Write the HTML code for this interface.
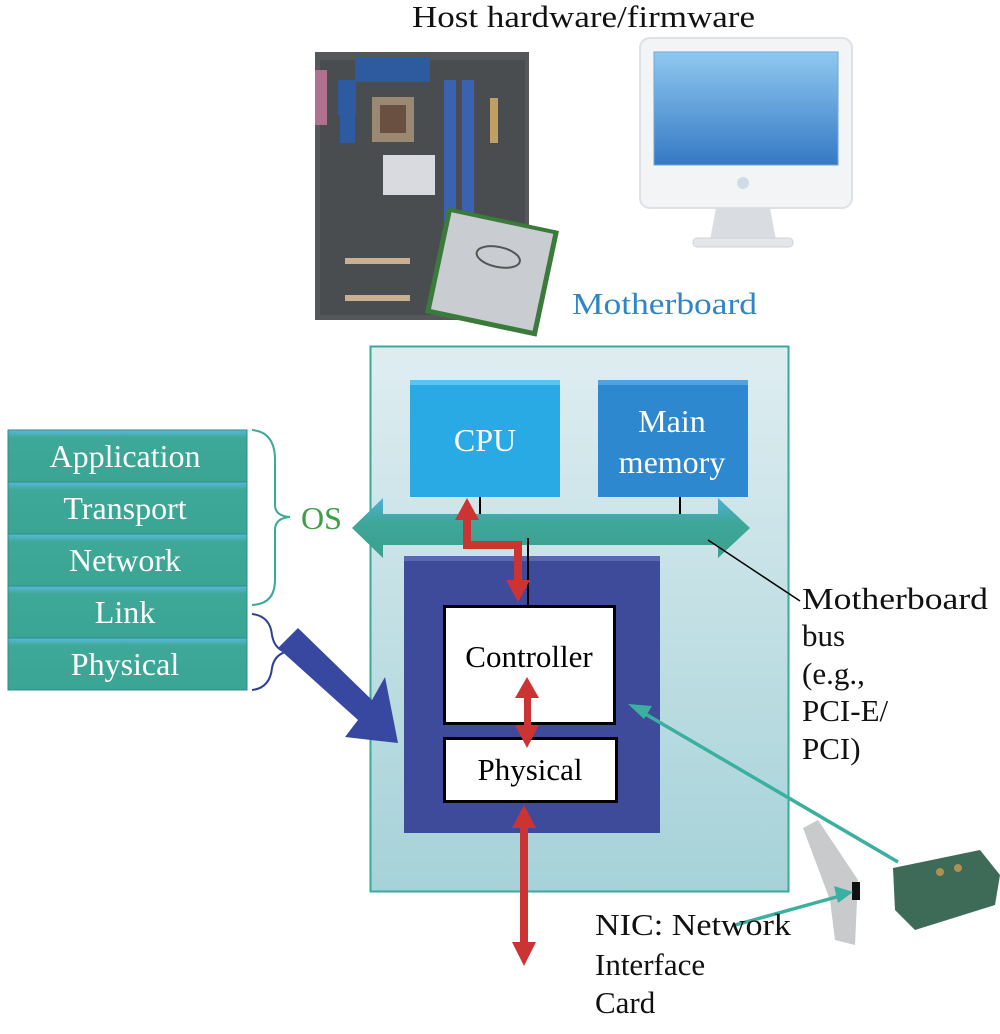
<!DOCTYPE html>
<html><head><meta charset="utf-8"><style>
html,body{margin:0;padding:0;background:#fff;}
svg{display:block;}
text{font-family:"Liberation Serif",serif;}
</style></head><body>
<svg width="1000" height="1034" viewBox="0 0 1000 1034" xmlns="http://www.w3.org/2000/svg">
<defs>
<linearGradient id="mb" x1="0" y1="0" x2="0" y2="1"><stop offset="0" stop-color="#dfedf1"/><stop offset="1" stop-color="#a5d2d8"/></linearGradient>
<linearGradient id="scr" x1="0" y1="0" x2="0" y2="1"><stop offset="0" stop-color="#8fc8f0"/><stop offset="1" stop-color="#3579c4"/></linearGradient>
<linearGradient id="lay" x1="0" y1="0" x2="0" y2="1"><stop offset="0" stop-color="#5ab8dc"/><stop offset="0.15" stop-color="#3fa898"/><stop offset="1" stop-color="#3aa594"/></linearGradient>
<linearGradient id="bus" x1="0" y1="0" x2="0" y2="1"><stop offset="0" stop-color="#4fb0d8"/><stop offset="0.4" stop-color="#3fa79a"/><stop offset="1" stop-color="#3aa08f"/></linearGradient>
</defs>

<text x="412" y="27" font-size="31" textLength="343" lengthAdjust="spacingAndGlyphs" fill="#111">Host hardware/firmware</text>

<!-- motherboard picture -->
<rect x="315" y="52" width="214" height="268" fill="#55585a"/>
<rect x="320" y="60" width="205" height="255" fill="#4a4d50"/>
<rect x="355" y="57" width="75" height="25" fill="#2e5aa0"/>
<rect x="338" y="80" width="18" height="35" fill="#2e5aa0"/>
<rect x="340" y="115" width="15" height="28" fill="#2e5aa0"/>
<rect x="315" y="70" width="12" height="55" fill="#b07090"/>
<rect x="372" y="97" width="42" height="45" fill="#9a8870"/>
<rect x="380" y="105" width="26" height="28" fill="#6a5040"/>
<rect x="383" y="155" width="52" height="40" fill="#d8dae0"/>
<rect x="444" y="80" width="12" height="150" fill="#3a62b0"/>
<rect x="462" y="80" width="12" height="150" fill="#3a62b0"/>
<rect x="490" y="98" width="8" height="45" fill="#c0a060"/>
<rect x="345" y="258" width="65" height="6" fill="#c8b090"/>
<rect x="345" y="295" width="65" height="6" fill="#c8b090"/>
<g transform="rotate(12 492 272)">
<rect x="435" y="218" width="114" height="108" fill="#3a7a3a"/>
<rect x="440" y="222" width="104" height="99" fill="#c9ccd0"/>
<ellipse cx="495" cy="256" rx="22" ry="10" fill="none" stroke="#555" stroke-width="2"/>
</g>

<!-- monitor -->
<rect x="640" y="38" width="212" height="170" rx="10" fill="#f3f4f6" stroke="#dde0e4" stroke-width="2"/>
<rect x="654" y="52" width="184" height="113" fill="url(#scr)" stroke="#6ea8dc"/>
<circle cx="743" cy="183" r="6" fill="#cfdbe6"/>
<polygon points="716,208 770,208 776,240 710,240" fill="#d9dce0"/>
<rect x="693" y="238" width="100" height="9" rx="4" fill="#e4e6ea" stroke="#cfd2d6"/>

<text x="572" y="314" font-size="31" textLength="185" lengthAdjust="spacingAndGlyphs" fill="#2e86c8">Motherboard</text>

<!-- main box -->
<rect x="370.5" y="346.5" width="418" height="545" fill="url(#mb)" stroke="#3aa99a" stroke-width="2"/>
<rect x="410" y="380" width="150" height="117" fill="#2aaae5"/>
<rect x="410" y="380" width="150" height="5" fill="#5cc2ef"/>
<text x="485" y="451" font-size="32" fill="#fff" text-anchor="middle">CPU</text>
<rect x="598" y="380" width="150" height="117" fill="#2e88cf"/>
<rect x="598" y="380" width="150" height="5" fill="#4ea3e0"/>
<text x="672" y="432" font-size="32" fill="#fff" text-anchor="middle">Main</text>
<text x="672" y="473" font-size="32" fill="#fff" text-anchor="middle">memory</text>

<line x1="480" y1="497" x2="480" y2="517" stroke="#000" stroke-width="2"/>
<line x1="680" y1="497" x2="680" y2="517" stroke="#000" stroke-width="2"/>

<polygon points="352,528 383,498 383,514 718,514 718,498 750,528 718,558 718,545 383,545 383,558" fill="url(#bus)"/>

<rect x="404" y="556" width="256" height="277" fill="#3d4b9a"/>
<rect x="404" y="556" width="256" height="5" fill="#5a68b0"/>
<line x1="528" y1="538" x2="528" y2="606" stroke="#000" stroke-width="2"/>
<line x1="708" y1="540" x2="800" y2="601" stroke="#000" stroke-width="1.5"/>
<rect x="444.5" y="606.5" width="170" height="117" fill="#fff" stroke="#000" stroke-width="3"/>
<text x="529" y="667" font-size="31" text-anchor="middle" fill="#000">Controller</text>
<rect x="444.5" y="738.5" width="172" height="63" fill="#fff" stroke="#000" stroke-width="3"/>
<text x="530" y="780" font-size="31" text-anchor="middle" fill="#000">Physical</text>

<g fill="#cc3333" stroke="none">
<polygon points="467,498 479,520 455,520"/>
<polyline points="467,515 467,545 518,545 518,585" fill="none" stroke="#cc3333" stroke-width="8"/>
<polygon points="518,602 506,580 530,580"/>
<polygon points="527,677 539,698 515,698"/>
<rect x="524" y="695" width="7" height="32"/>
<polygon points="527,748 539,725 515,725"/>
<polygon points="524,805 536,828 512,828"/>
<rect x="520" y="826" width="8" height="118"/>
<polygon points="524,966 536,942 512,942"/>
</g>

<g font-size="32" fill="#fff" text-anchor="middle">
<rect x="8" y="430" width="239" height="52" fill="url(#lay)" stroke="#2f8d80"/>
<text x="125" y="467">Application</text>
<rect x="8" y="482" width="239" height="52" fill="url(#lay)" stroke="#2f8d80"/>
<text x="125" y="519">Transport</text>
<rect x="8" y="534" width="239" height="52" fill="url(#lay)" stroke="#2f8d80"/>
<text x="125" y="571">Network</text>
<rect x="8" y="586" width="239" height="52" fill="url(#lay)" stroke="#2f8d80"/>
<text x="125" y="623">Link</text>
<rect x="8" y="638" width="239" height="52" fill="url(#lay)" stroke="#2f8d80"/>
<text x="125" y="675">Physical</text>
</g>

<path d="M252,430 Q275,432 275,460 L275,505 Q275,516 290,517 Q275,518 275,530 L275,580 Q275,604 252,605" fill="none" stroke="#3aa99a" stroke-width="2"/>
<text x="301" y="529" font-size="32" fill="#3a9f45">OS</text>
<path d="M252,614 Q270,616 272,635 Q274,648 285,652 Q274,656 272,668 Q270,688 252,690" fill="none" stroke="#2b3e9a" stroke-width="2"/>

<polygon points="278,648 298,628 372,700 385,677 398,743 345,737 358,720" fill="#3848a0"/>

<!-- NIC card -->
<polygon points="803,828 818,820 858,880 855,945 835,940 830,900" fill="#c8cacc"/>
<polygon points="893,868 980,850 1000,875 995,905 915,930 895,910" fill="#3e6a58"/>
<circle cx="940" cy="872" r="4" fill="#b09050"/>
<circle cx="958" cy="868" r="4" fill="#b09050"/>
<rect x="852" y="882" width="8" height="18" fill="#111"/>

<line x1="898" y1="862" x2="642" y2="712" stroke="#3bb0a0" stroke-width="3.5"/>
<polygon points="628,704 652,706 644,719" fill="#3bb0a0"/>
<line x1="735" y1="925" x2="840" y2="896" stroke="#3bb0a0" stroke-width="3.5"/>
<polygon points="853,892 834,886 838,903" fill="#3bb0a0"/>

<g font-size="31" fill="#111">
<text x="802" y="609" textLength="186" lengthAdjust="spacingAndGlyphs">Motherboard</text>
<text x="802" y="646">bus</text>
<text x="802" y="684">(e.g.,</text>
<text x="802" y="721">PCI-E/</text>
<text x="802" y="759">PCI)</text>
<text x="595" y="935" textLength="196" lengthAdjust="spacingAndGlyphs">NIC: Network</text>
<text x="595" y="975">Interface</text>
<text x="595" y="1013">Card</text>
</g>
</svg>
</body></html>
